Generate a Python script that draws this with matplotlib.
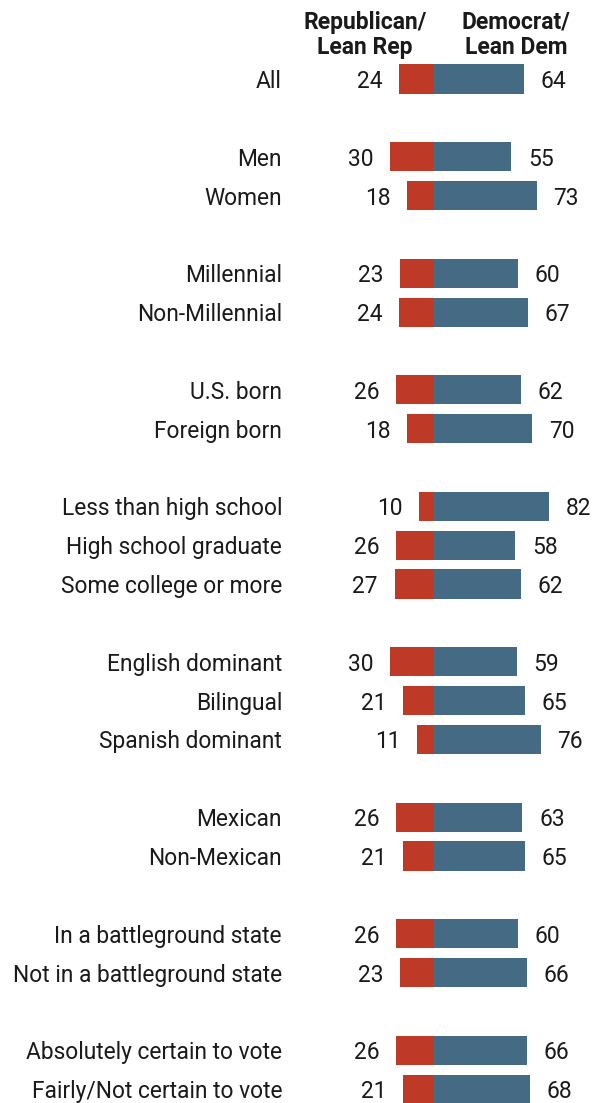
import numpy as np
import matplotlib
matplotlib.use("Agg")
import matplotlib.pyplot as plt

plt.rcParams['font.family'] = ['Roboto', 'DejaVu Sans']

# rows, None = blank spacer row between groups
labels = ["All", None,
          "Men", "Women", None,
          "Millennial", "Non-Millennial", None,
          "U.S. born", "Foreign born", None,
          "Less than high school", "High school graduate", "Some college or more", None,
          "English dominant", "Bilingual", "Spanish dominant", None,
          "Mexican", "Non-Mexican", None,
          "In a battleground state", "Not in a battleground state", None,
          "Absolutely certain to vote", "Fairly/Not certain to vote"]
rep = [24, None, 30, 18, None, 23, 24, None, 26, 18, None, 10, 26, 27, None,
       30, 21, 11, None, 26, 21, None, 26, 23, None, 26, 21]
dem = [64, None, 55, 73, None, 60, 67, None, 62, 70, None, 82, 58, 62, None,
       59, 65, 76, None, 63, 65, None, 60, 66, None, 66, 68]

red = "#BE3A27"
blue = "#456A83"
txt = "#1a1a1a"

W, H = 603, 1103
fig = plt.figure(figsize=(W / 100, H / 100), dpi=100)
ax = fig.add_axes([0, 0, 1, 1])

# scale: 1.42 px per point, zero line at x=433 px; rows 38.85 px apart, first at y=79
px = 1.42
x0 = 433
ax.set_xlim(-x0 / px, (W - x0) / px)
row = 38.85
ax.set_ylim((H - 79) / row, -79 / row)
ax.axis("off")

ypos = [i for i, l in enumerate(labels) if l is not None]
r_vals = [rep[i] for i in ypos]
d_vals = [dem[i] for i in ypos]
names = [labels[i] for i in ypos]

ax.barh(ypos, [-v for v in r_vals], height=0.75, color=red, linewidth=0)
ax.barh(ypos, d_vals, height=0.75, color=blue, linewidth=0)

fs = 16.4
lab_tr = ax.get_yaxis_transform()
for y, n, r, d in zip(ypos, names, r_vals, d_vals):
    ax.text(282 / W, y, n, transform=lab_tr, ha="right", va="center_baseline",
            fontsize=fs, color=txt)
    ax.annotate(str(r), xy=(-r, y), xytext=(-12, 0), textcoords="offset points",
                ha="right", va="center_baseline", fontsize=fs, color=txt)
    ax.annotate(str(d), xy=(d, y), xytext=(12, 0), textcoords="offset points",
                ha="left", va="center_baseline", fontsize=fs, color=txt)

ax.text(365 / W, 1 - 11 / H, "Republican/\nLean Rep", transform=ax.transAxes,
        ha="center", va="top", fontsize=16.5, fontweight="bold", color=txt,
        linespacing=1.1)
ax.text(516 / W, 1 - 11 / H, "Democrat/\nLean Dem", transform=ax.transAxes,
        ha="center", va="top", fontsize=16.5, fontweight="bold", color=txt,
        linespacing=1.1)

fig.savefig("out.png", dpi=100)
